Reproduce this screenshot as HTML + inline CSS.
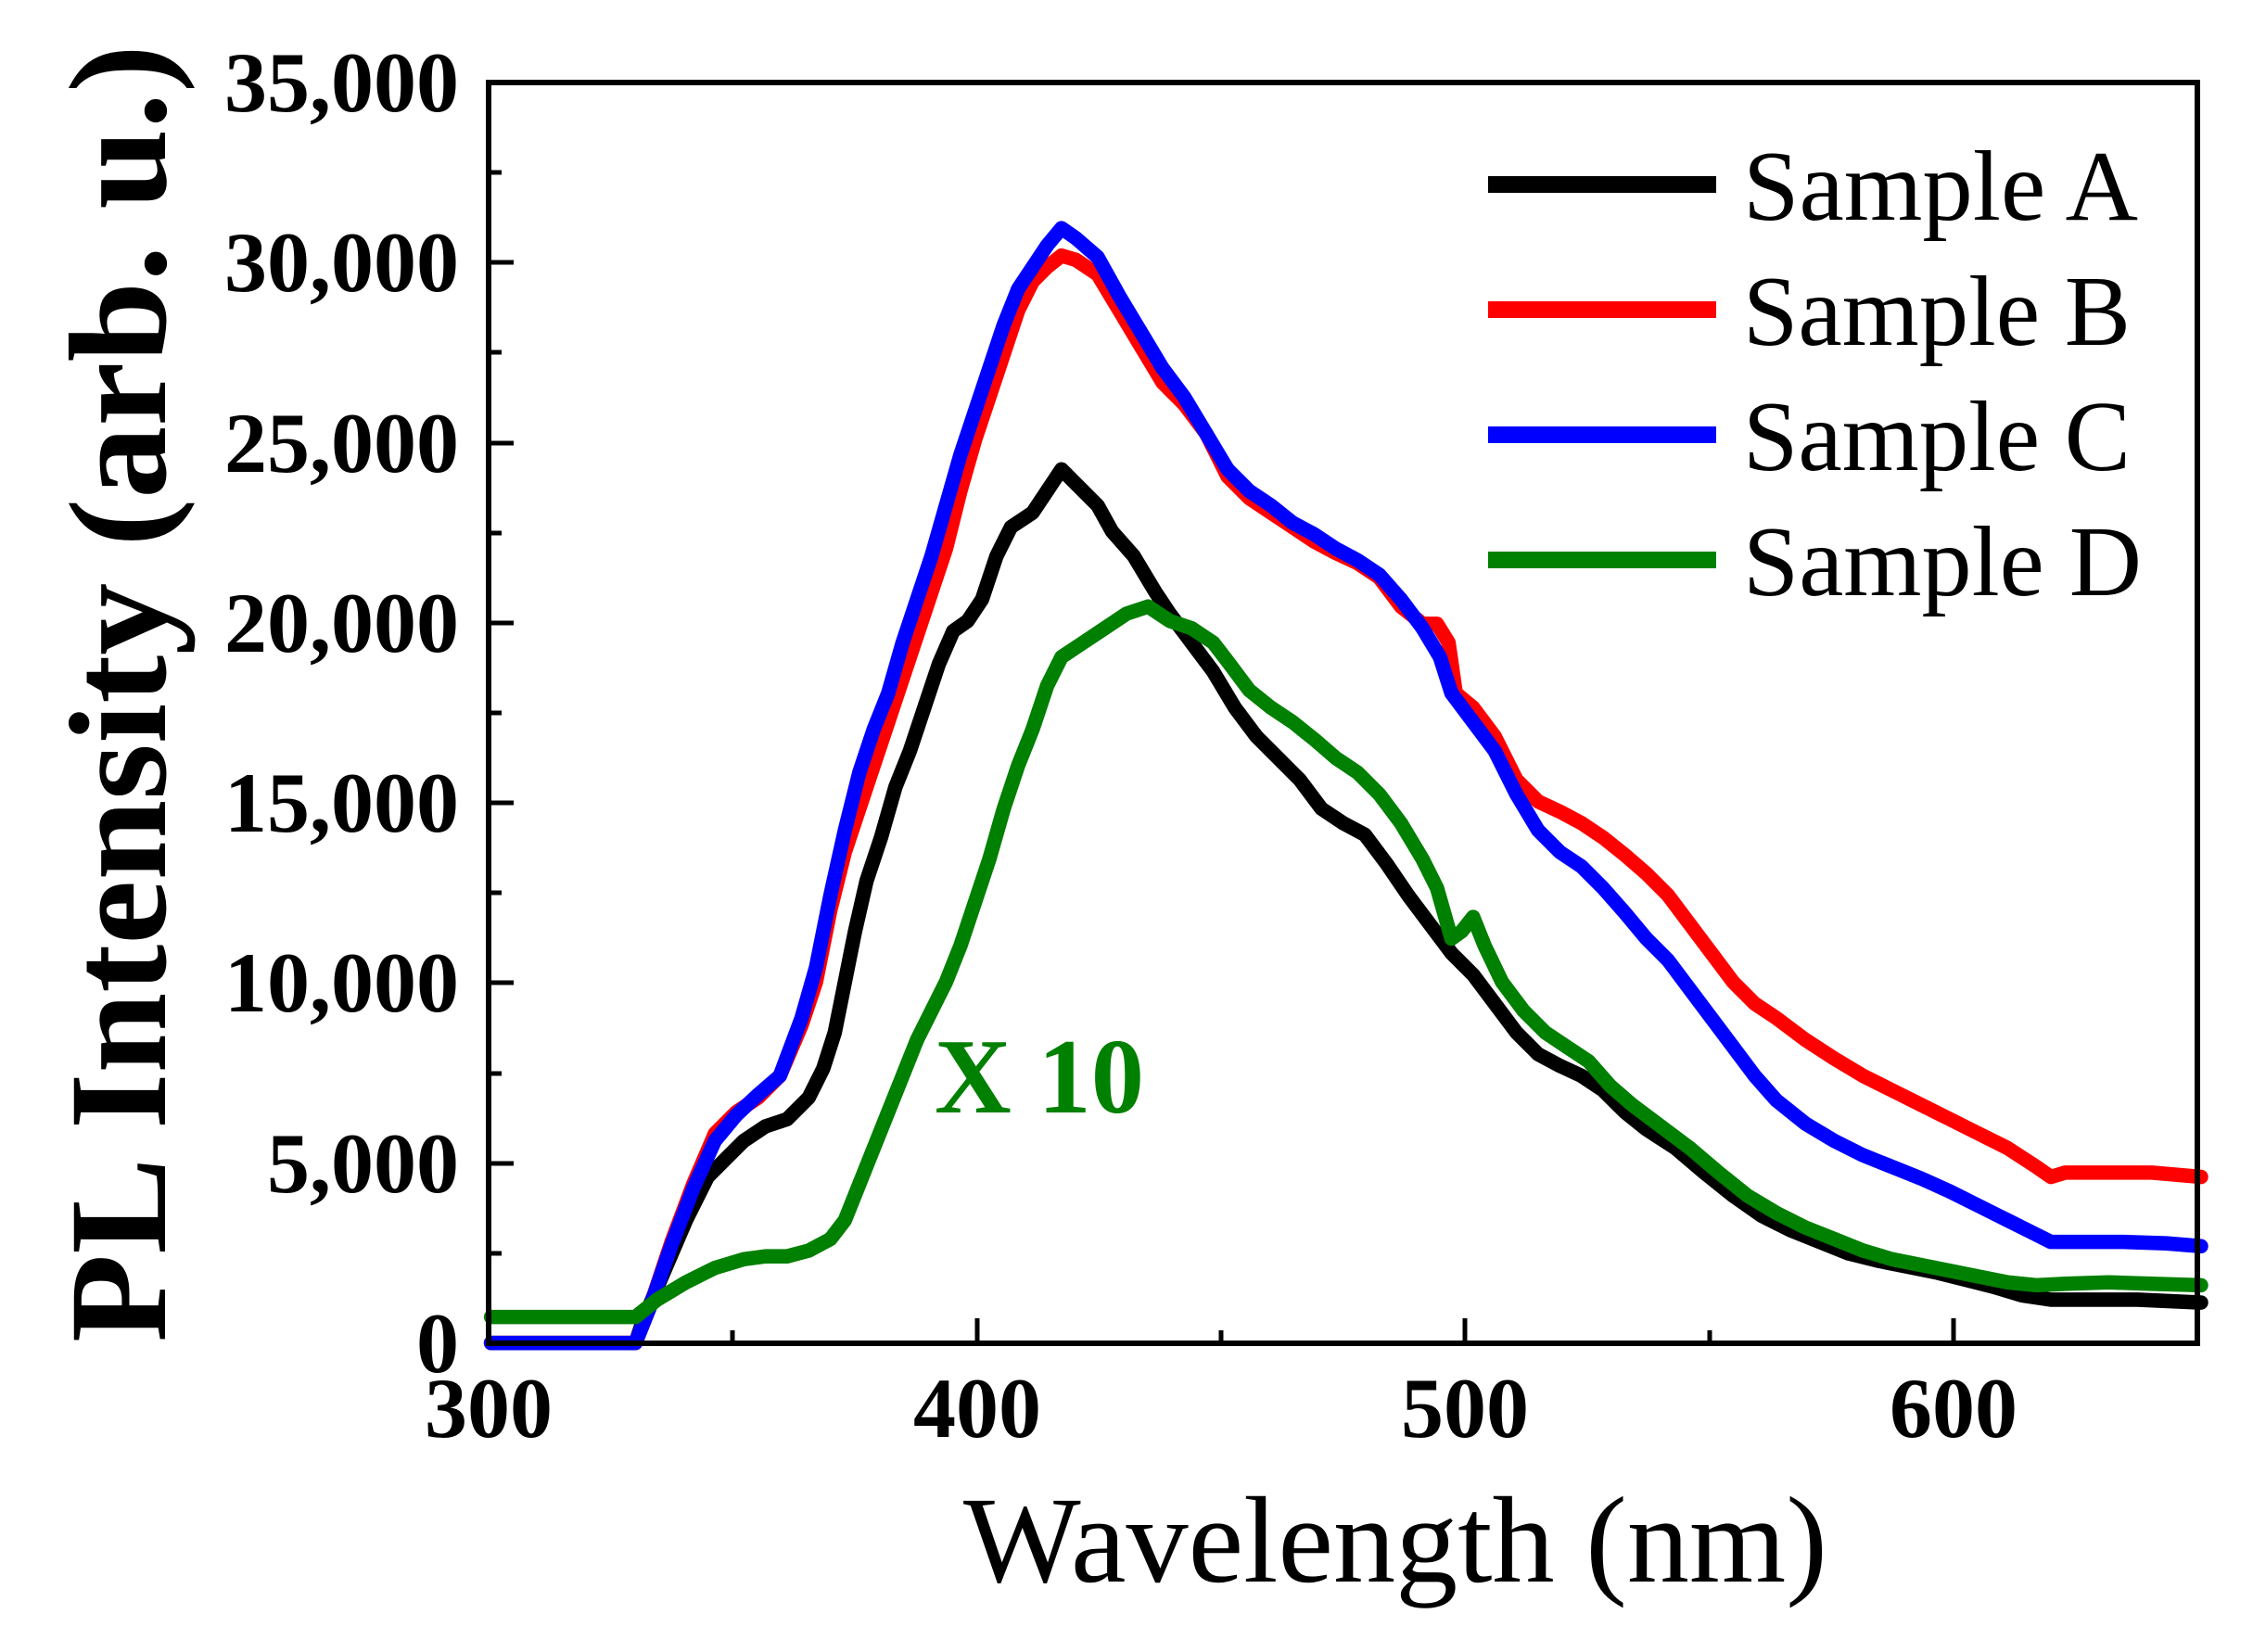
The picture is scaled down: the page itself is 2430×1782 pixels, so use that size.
<!DOCTYPE html>
<html><head><meta charset="utf-8"><style>
html,body{margin:0;padding:0;background:#fff;}
svg{display:block;}
text{font-family:"Liberation Serif","Times New Roman",serif;}
</style></head><body>
<svg width="2430" height="1782" viewBox="0 0 2430 1782" xmlns="http://www.w3.org/2000/svg">
<rect width="2430" height="1782" fill="#fff"/>
<g transform="scale(1.5577)" fill="none" stroke-width="10" stroke-linejoin="round" stroke-linecap="round">
<polyline stroke="#000" points="340,930 440,930 445,915 460,880 475,845 490,815 505,800 515,790 530,780 545,775 560,760 570,740 578,715 585,680 592,645 600,610 610,580 620,545 630,520 640,490 650,460 660,437 670,430 680,415 690,385 700,365 715,355 725,340 735,325 745,335 760,350 770,368 785,385 800,410 810,425 825,445 840,465 855,490 870,510 885,525 900,540 915,560 930,570 945,578 960,598 975,620 990,640 1005,660 1020,675 1035,695 1050,715 1065,730 1080,738 1095,745 1110,755 1125,770 1140,782 1160,795 1180,812 1200,828 1220,842 1240,852 1260,860 1280,868 1300,873 1320,877 1340,881 1360,886 1380,891 1400,897 1420,900 1450,900 1480,900 1524,902"/>
<polyline stroke="#ff0000" points="340,930 440,930 450,905 465,860 480,820 495,785 510,770 525,760 540,745 555,710 565,680 575,630 585,590 595,560 605,530 615,500 625,470 635,440 645,410 655,380 665,340 675,305 685,275 695,245 705,215 715,195 725,185 735,177 745,180 760,190 775,215 790,240 805,265 820,280 835,300 850,330 865,345 880,355 895,365 910,375 925,383 940,390 955,400 970,420 985,432 995,432 1003,445 1008,480 1020,490 1035,510 1050,540 1065,555 1080,562 1095,570 1110,580 1125,592 1140,605 1155,620 1170,640 1185,660 1200,680 1215,695 1230,705 1250,720 1270,733 1290,745 1310,755 1330,765 1350,775 1370,785 1390,795 1410,808 1420,815 1430,812 1460,812 1490,812 1524,815"/>
<polyline stroke="#0000ff" points="340,930 440,930 450,905 465,862 480,823 495,790 510,772 525,758 540,745 555,705 565,670 575,620 585,575 595,535 605,505 615,480 625,445 635,415 645,385 655,350 665,315 675,285 685,255 695,225 705,200 715,185 725,170 735,158 745,165 760,178 775,205 790,230 805,255 820,275 835,300 850,325 865,340 880,350 895,362 910,370 925,380 940,388 955,398 970,415 985,435 997,455 1005,480 1020,500 1035,520 1050,550 1065,575 1080,590 1095,600 1110,615 1125,632 1140,650 1155,665 1170,685 1185,705 1200,725 1215,745 1230,762 1250,778 1270,790 1290,800 1310,808 1330,816 1350,825 1370,835 1390,845 1410,855 1420,860 1440,860 1470,860 1500,861 1524,863"/>
<polyline stroke="#008000" points="340,912 440,912 455,900 475,888 495,878 515,872 530,870 545,870 560,866 575,858 585,845 595,820 605,795 615,770 625,745 635,720 645,700 655,680 665,655 675,625 685,595 695,560 705,530 715,505 725,475 735,455 750,445 765,435 780,425 795,420 810,430 825,435 840,445 850,458 865,478 880,490 895,500 910,512 925,525 940,535 955,550 970,570 985,595 995,615 1005,650 1012,645 1020,635 1028,655 1040,680 1055,700 1070,715 1085,725 1100,735 1115,752 1130,765 1150,780 1170,795 1190,812 1210,828 1230,840 1250,850 1270,858 1290,866 1310,872 1330,876 1350,880 1370,884 1390,888 1410,890 1430,889 1460,888 1490,889 1524,890"/>
</g>
<rect x="527" y="89" width="1843" height="1360" fill="none" stroke="#000" stroke-width="6"/>
<g stroke="#000" stroke-width="5">
<line x1="527" y1="1449" x2="527" y2="1422"/>
<line x1="1054" y1="1449" x2="1054" y2="1422"/>
<line x1="1580" y1="1449" x2="1580" y2="1422"/>
<line x1="2107" y1="1449" x2="2107" y2="1422"/>
<line x1="790" y1="1449" x2="790" y2="1435"/>
<line x1="1317" y1="1449" x2="1317" y2="1435"/>
<line x1="1844" y1="1449" x2="1844" y2="1435"/>
<line x1="527" y1="1255" x2="554" y2="1255"/>
<line x1="527" y1="1060" x2="554" y2="1060"/>
<line x1="527" y1="866" x2="554" y2="866"/>
<line x1="527" y1="672" x2="554" y2="672"/>
<line x1="527" y1="478" x2="554" y2="478"/>
<line x1="527" y1="283" x2="554" y2="283"/>
<line x1="527" y1="1352" x2="541" y2="1352"/>
<line x1="527" y1="1158" x2="541" y2="1158"/>
<line x1="527" y1="963" x2="541" y2="963"/>
<line x1="527" y1="769" x2="541" y2="769"/>
<line x1="527" y1="575" x2="541" y2="575"/>
<line x1="527" y1="380" x2="541" y2="380"/>
<line x1="527" y1="186" x2="541" y2="186"/>
</g>
<g font-size="92" font-weight="bold" text-anchor="end" fill="#000">
<text x="495" y="1480">0</text>
<text x="495" y="1286">5,000</text>
<text x="495" y="1091">10,000</text>
<text x="495" y="897">15,000</text>
<text x="495" y="703">20,000</text>
<text x="495" y="509">25,000</text>
<text x="495" y="314">30,000</text>
<text x="495" y="120">35,000</text>
</g>
<g font-size="92" font-weight="bold" text-anchor="middle" fill="#000">
<text x="527" y="1550">300</text>
<text x="1054" y="1550">400</text>
<text x="1580" y="1550">500</text>
<text x="2107" y="1550">600</text>
</g>
<text x="1505" y="1706" font-size="133" text-anchor="middle" textLength="932" lengthAdjust="spacingAndGlyphs">Wavelength (nm)</text>
<text transform="translate(178,748) rotate(-90)" font-size="150" font-weight="bold" text-anchor="middle" textLength="1400" lengthAdjust="spacingAndGlyphs">PL Intensity (arb. u.)</text>
<text x="1008" y="1200" font-size="115" font-weight="bold" fill="#008000" textLength="226" lengthAdjust="spacingAndGlyphs">X 10</text>
<g stroke-width="18">
<line x1="1605" y1="199" x2="1851" y2="199" stroke="#000"/>
<line x1="1605" y1="334" x2="1851" y2="334" stroke="#ff0000"/>
<line x1="1605" y1="469" x2="1851" y2="469" stroke="#0000ff"/>
<line x1="1605" y1="604" x2="1851" y2="604" stroke="#008000"/>
</g>
<g font-size="108" fill="#000">
<text x="1880" y="237" textLength="426" lengthAdjust="spacingAndGlyphs">Sample A</text>
<text x="1880" y="372" textLength="418" lengthAdjust="spacingAndGlyphs">Sample B</text>
<text x="1880" y="507" textLength="418" lengthAdjust="spacingAndGlyphs">Sample C</text>
<text x="1880" y="642" textLength="430" lengthAdjust="spacingAndGlyphs">Sample D</text>
</g>
</svg>
</body></html>
